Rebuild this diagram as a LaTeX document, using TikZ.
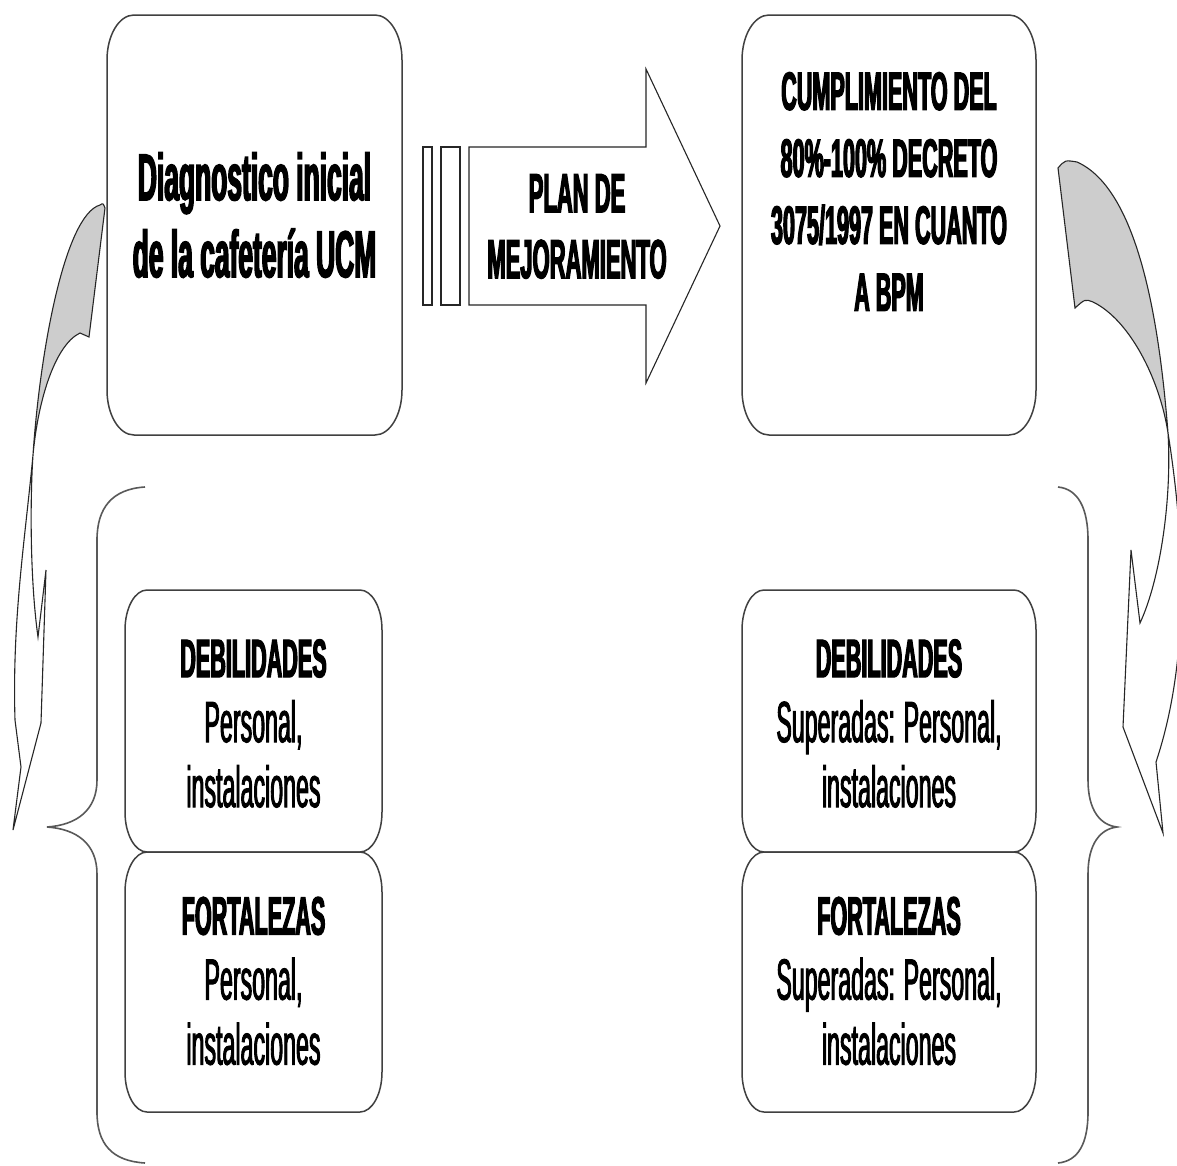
\documentclass[tikz,border=0pt]{standalone}
\usepackage{fontspec}
\setmainfont{Liberation Sans}[FakeStretch=0.4]
\newfontfamily\regf{Liberation Sans}[FakeStretch=0.4, FakeBold=1.6]
\newfontfamily\boldf{Liberation Sans Bold}[FakeStretch=0.4, FakeBold=2.2]
\definecolor{crescent}{RGB}{205,205,205}
\newcommand\erect[7]{%
\draw[#1] ({#2+#6},#3) -- ({#4-#6},#3)
  arc[start angle=270,end angle=360,x radius=#6,y radius=#7]
  -- (#4,{#5-#7}) arc[start angle=0,end angle=90,x radius=#6,y radius=#7]
  -- ({#2+#6},#5) arc[start angle=90,end angle=180,x radius=#6,y radius=#7]
  -- (#2,{#3+#7}) arc[start angle=180,end angle=270,x radius=#6,y radius=#7]
  -- cycle;}
\tikzset{
  boxline/.style={draw=black!75, line width=1.5pt},
  shapeline/.style={draw=black!85, line width=1.1pt, line join=miter},
  braceline/.style={draw=black!65, line width=1.6pt},
  txt/.style={inner sep=0pt, align=center, text=black},
}
\begin{document}
\begin{tikzpicture}[x=1pt,y=-1pt]
\useasboundingbox (0,0) rectangle (1177,1165);
\fill[white] (0,0) rectangle (1177,1165);

% top boxes
\erect{boxline}{107}{15}{402}{435}{27}{45}
\erect{boxline}{742}{15}{1036}{435}{27}{45}
% bottom boxes
\erect{boxline}{125}{590}{382}{852}{22}{40}
\erect{boxline}{125}{852}{382}{1112}{22}{40}
\erect{boxline}{742}{590}{1036}{852}{22}{40}
\erect{boxline}{742}{852}{1036}{1112}{22}{40}

% texts
\node[txt, font=\boldf\fontsize{66}{77}\selectfont] (diag) at (254.5,215)
  {Diagnostico inicial\\de la cafetería UCM};
\node[txt, font=\boldf\fontsize{54}{67}\selectfont] (cump) at (889,191.5)
  {CUMPLIMIENTO DEL\\80\%-100\% DECRETO\\3075/1997 EN CUANTO\\A BPM};
\node[txt, font=\regf\fontsize{58}{65}\selectfont] (debL) at (253.5,723.5)
  {{\boldf\fontsize{54}{65}\selectfont DEBILIDADES}\\Personal,\\instalaciones};
\node[txt, font=\regf\fontsize{58}{65}\selectfont] (fortL) at (253.5,981)
  {{\boldf\fontsize{54}{65}\selectfont FORTALEZAS}\\Personal,\\instalaciones};
\node[txt, font=\regf\fontsize{58}{65}\selectfont] (debR) at (889,723.5)
  {{\boldf\fontsize{54}{65}\selectfont DEBILIDADES}\\Superadas: Personal,\\instalaciones};
\node[txt, font=\regf\fontsize{58}{65}\selectfont] (fortR) at (889,981)
  {{\boldf\fontsize{54}{65}\selectfont FORTALEZAS}\\Superadas: Personal,\\instalaciones};

% block arrow
\draw[shapeline] (423,147) rectangle (432,305);
\draw[shapeline] (441,147) rectangle (460,305);
\draw[shapeline] (469,147) -- (646,147) -- (646,69) -- (720,226) -- (646,383)
  -- (646,305) -- (469,305) -- cycle;
\node[txt, font=\boldf\fontsize{55}{66}\selectfont] (plan) at (577,226.5)
  {PLAN DE\\MEJORAMIENTO};

% left curved arrow
\filldraw[shapeline, fill=crescent] (100,205) .. controls (65,215) and (40,350) .. (33,455)
  .. controls (38,400) and (55,345) .. (80,333) -- (89,337) -- (105,208)
  .. controls (103,203) .. (100,205) -- cycle;
\draw[shapeline] (33,455) .. controls (25,540) and (12,620) .. (15,720) -- (21,767)
  -- (13,830) -- (41,723) -- (46,570) -- (38,637)
  .. controls (30,580) and (30,500) .. (33,455);

% right curved arrow
\filldraw[shapeline, fill=crescent] (1077,162) .. controls (1140,190) and (1160,330) .. (1168,433)
  .. controls (1160,380) and (1130,320) .. (1093,302) .. controls (1085,299) .. (1075,308)
  -- (1058,168) .. controls (1065,160) .. (1077,162) -- cycle;
\draw[shapeline] (1168,433) .. controls (1185,540) and (1190,660) .. (1156,762)
  -- (1163,833) -- (1123,727) -- (1131,550) -- (1140,623)
  .. controls (1160,580) and (1172,500) .. (1168,433);

% braces
\draw[braceline] (145,487) .. controls (112,489) and (97,508) .. (97,540) -- (97,780)
  .. controls (97,810) and (77,825) .. (47,827)
  .. controls (77,829) and (97,844) .. (97,874) -- (97,1112)
  .. controls (97,1144) and (112,1161) .. (145,1163);
\draw[braceline] (1058,487) .. controls (1078,489) and (1088,508) .. (1088,540) -- (1088,780)
  .. controls (1088,810) and (1100,825) .. (1117,827)
  .. controls (1100,829) and (1088,844) .. (1088,874) -- (1088,1112)
  .. controls (1088,1144) and (1078,1161) .. (1058,1163);
\end{tikzpicture}
\end{document}
